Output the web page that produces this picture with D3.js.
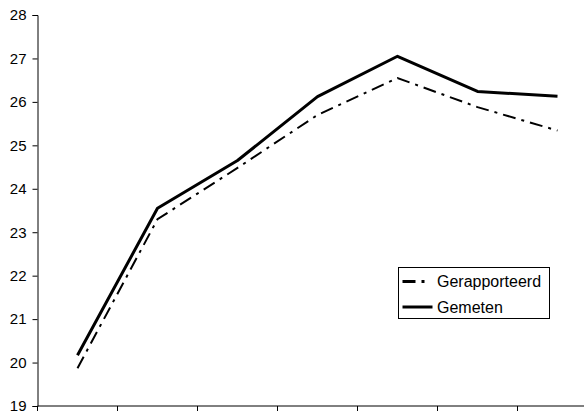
<!DOCTYPE html>
<html>
<head>
<meta charset="utf-8">
<script src="https://cdn.jsdelivr.net/npm/d3@7"></script>
<style>
  html, body { margin: 0; padding: 0; background: #fff; }
  svg { display: block; font-family: "Liberation Sans", Arial, sans-serif; }
</style>
</head>
<body>
<svg id="chart" width="584" height="414"></svg>
<script>
// chart data
const categories = ['1', '2', '3', '4', '5', '6', '7'];
const gerapporteerd = [19.87, 23.3, 24.48, 25.7, 26.55, 25.88, 25.34];
const gemeten = [20.17, 23.55, 24.65, 26.12, 27.05, 26.24, 26.13];
const yTicks = [19, 20, 21, 22, 23, 24, 25, 26, 27, 28];

(function () {
  const svg = d3.select('#chart');
  const left = 37.5, top = 15, bottom = 406;
  const band = 80;
  const DASH = '13,6,3,6';

  const x = d3.scaleBand().domain(categories).range([left, left + band * categories.length]);
  const y = d3.scaleLinear().domain([19, 28]).range([bottom, top]);

  // y axis
  const yAxis = svg.append('g')
    .attr('transform', 'translate(' + left + ',0)')
    .call(d3.axisLeft(y).tickValues(yTicks).tickSize(5).tickPadding(6).tickFormat(d3.format('d')));
  yAxis.selectAll('text').attr('font-size', 15).attr('fill', '#000').attr('font-family', '"Liberation Sans", Arial, sans-serif');
  yAxis.selectAll('line, path').attr('stroke', '#000');

  // x axis: ticks at category boundaries, no labels
  const bounds = categories.map((c) => x(c)).concat([x(categories[categories.length - 1]) + band]);
  const xg = svg.append('g').attr('transform', 'translate(0,' + bottom + ')');
  xg.append('line')
    .attr('x1', left).attr('x2', left + band * categories.length)
    .attr('stroke', '#000').attr('stroke-width', 1);
  xg.selectAll('line.tick')
    .data(bounds)
    .join('line')
    .attr('class', 'tick')
    .attr('x1', (d) => d).attr('x2', (d) => d)
    .attr('y1', 0).attr('y2', 5)
    .attr('stroke', '#000');

  const line = d3.line()
    .x((d, i) => x(categories[i]) + x.bandwidth() / 2)
    .y((d) => y(d));

  svg.append('path')
    .datum(gerapporteerd)
    .attr('d', line)
    .attr('fill', 'none')
    .attr('stroke', '#000')
    .attr('stroke-width', 2)
    .attr('stroke-dasharray', DASH);

  svg.append('path')
    .datum(gemeten)
    .attr('d', line)
    .attr('fill', 'none')
    .attr('stroke', '#000')
    .attr('stroke-width', 3)
    .attr('stroke-linejoin', 'round');

  // legend
  const lg = svg.append('g').attr('transform', 'translate(398.5,267.5)');
  lg.append('rect')
    .attr('width', 151).attr('height', 51)
    .attr('fill', '#fff').attr('stroke', '#000').attr('stroke-width', 1);
  const items = [
    { name: 'Gerapporteerd', dash: DASH, w: 3, end: 27 },
    { name: 'Gemeten', dash: null, w: 3, end: 34 }
  ];
  items.forEach((it, i) => {
    const cy = 14 + i * 25.5;
    lg.append('line')
      .attr('x1', 4).attr('x2', it.end).attr('y1', cy).attr('y2', cy)
      .attr('stroke', '#000').attr('stroke-width', it.w)
      .attr('stroke-dasharray', it.dash);
    lg.append('text')
      .attr('x', 38.5).attr('y', cy).attr('dy', '0.35em')
      .attr('font-size', 16).attr('fill', '#000')
      .text(it.name);
  });
})();
</script>
</body>
</html>
